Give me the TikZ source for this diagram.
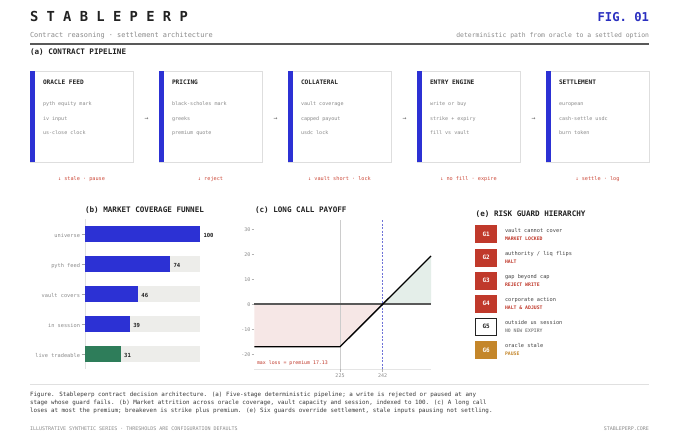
\documentclass[tikz,border=0pt]{standalone}
\usepackage{fontspec}
\setmainfont{DejaVu Sans Mono}
\newcommand\fsz[1]{\fontsize{#1pt}{#1pt}\selectfont}
\definecolor{ink}{HTML}{222222}
\definecolor{figblue}{HTML}{2A2FC0}
\definecolor{barblue}{HTML}{2C31D4}
\definecolor{subgray}{HTML}{8A8A8A}
\definecolor{boxline}{HTML}{DEDEDE}
\definecolor{redlab}{HTML}{CC4A3A}
\definecolor{track}{HTML}{EDEDEA}
\definecolor{greenbar}{HTML}{2E7D5A}
\definecolor{pinkfill}{HTML}{F6E7E6}
\definecolor{greenfill}{HTML}{E4EEE9}
\definecolor{badgered}{HTML}{C0392B}
\definecolor{badgeorange}{HTML}{C4862A}
\definecolor{dashblue}{HTML}{6F73D8}
\tikzset{
  every node/.style={inner sep=0pt, outer sep=0pt},
  stagebox/.style={draw=boxline, line width=0.8pt, fill=white, minimum width=103pt, minimum height=91pt},
  stagetitle/.style={anchor=mid west, font=\fsz{6.15}\bfseries, text=ink},
  stageitem/.style={anchor=mid west, font=\fsz{5.05}, text=subgray},
  failnote/.style={anchor=mid, font=\fsz{5.2}, text=redlab},
  flowarrow/.style={anchor=mid, font=\fsz{6.5}, text=black!60},
  paneltitle/.style={anchor=mid west, font=\fsz{7.6}\bfseries, text=ink},
  funnellabel/.style={anchor=mid east, font=\fsz{5.3}, text=subgray},
  funnelvalue/.style={anchor=mid west, font=\fsz{5.6}\bfseries, text=ink},
  ticklabel/.style={font=\fsz{5}, text=subgray},
  badge/.style={minimum width=21pt, minimum height=17pt, font=\fsz{6}\bfseries},
  guardmain/.style={anchor=mid west, font=\fsz{5.3}, text=ink!85},
  guardsub/.style={anchor=mid west, font=\fsz{4.8}\bfseries},
}
\begin{document}
\begin{tikzpicture}[x=1pt,y=-1pt]
\useasboundingbox[fill=white] (0,0) rectangle (679,439);
% header
\node[anchor=mid west, font=\fsz{13.8}\bfseries, text=ink] (title) at (30,19) {S T A B L E P E R P};
\node[anchor=mid east, font=\fsz{12.2}\bfseries, text=figblue] (fig) at (649,19) {FIG. 01};
\node[anchor=mid west, font=\fsz{6.9}, text=subgray] (sub) at (30,35) {Contract reasoning · settlement architecture};
\node[anchor=mid east, font=\fsz{6.4}, text=subgray] (det) at (649,35) {deterministic path from oracle to a settled option};
\draw[line width=2pt, draw=black!65] (30,44) -- (649,44);
\node[paneltitle] (pa) at (30,52) {(a) CONTRACT PIPELINE};
% pipeline
\foreach \i/\t/\a/\b/\c/\r in {
  0/ORACLE FEED/pyth equity mark/iv input/us-close clock/stale · pause,
  1/PRICING/black-scholes mark/greeks/premium quote/reject,
  2/COLLATERAL/vault coverage/capped payout/usdc lock/vault short · lock,
  3/ENTRY ENGINE/write or buy/strike + expiry/fill vs vault/no fill · expire,
  4/SETTLEMENT/european/cash-settle usdc/burn token/settle · log}{
  \pgfmathsetmacro\xo{30+129*\i}
  \node[stagebox] (s\i) at (\xo+51.5,116.5) {};
  \fill[barblue] (s\i.north west) rectangle ++(4.5,91);
  \node[stagetitle] (s\i t) at (\xo+13,82) {\t};
  \node[stageitem] (s\i a) at (\xo+13,103) {\a};
  \node[stageitem] (s\i b) at (\xo+13,117.5) {\b};
  \node[stageitem] (s\i c) at (\xo+13,132) {\c};
  \node[failnote] (s\i r) at (\xo+51.5,178) {↓ \r};
}
\foreach \i in {0,1,2,3}{
  \node[flowarrow] (arr\i) at (146.5+129*\i,117.5) {→};
}
% (b) funnel
\node[paneltitle] (pb) at (85,210) {(b) MARKET COVERAGE FUNNEL};
\draw[draw=black!12, line width=0.6pt] (85,219) -- (85,369);
\foreach \k/\l/\v/\col in {0/universe/100/barblue, 1/pyth feed/74/barblue, 2/vault covers/46/barblue, 3/in session/39/barblue, 4/live tradeable/31/greenbar}{
  \pgfmathsetmacro\yc{234.3+30*\k}
  \fill[track] (85,\yc-8) rectangle (200,\yc+8);
  \fill[\col] (85,\yc-8) rectangle (85+1.15*\v,\yc+8);
  \draw[draw=black!35, line width=0.5pt] (81.5,\yc) -- (85,\yc);
  \node[funnellabel] (fl\k) at (80,\yc) {\l};
  \node[funnelvalue] (fv\k) at (85+1.15*\v+3.5,\yc) {\v};
}
% (c) payoff
\node[paneltitle] (pc) at (255,210) {(c) LONG CALL PAYOFF};
\fill[pinkfill] (254.3,304) -- (382.7,304) -- (340,346.8) -- (254.3,346.8) -- cycle;
\fill[greenfill] (382.7,304) -- (431,256) -- (431,304) -- cycle;
\draw[draw=black!20, line width=0.6pt] (340,220) -- (340,369);
\draw[draw=dashblue, line width=0.6pt, dash pattern=on 2pt off 1.5pt] (382.7,220) -- (382.7,369);
\draw[draw=black!10, line width=0.6pt] (254.3,369) -- (431,369);
\draw[draw=black!65, line width=1.2pt] (254.3,304) -- (431,304);
\draw[draw=black, line width=1.3pt, line join=round] (254.3,346.8) -- (340,346.8) -- (431,256);
\foreach \v in {30,20,10,0,-10,-20}{
  \pgfmathsetmacro\yy{304-2.5*\v}
  \draw[draw=black!30, line width=0.5pt] (251.5,\yy) -- (254,\yy);
  \node[ticklabel, anchor=mid east] (yt\v) at (250.5,\yy) {\v};
}
\draw[draw=black!30, line width=0.5pt] (340,369) -- (340,371.5);
\draw[draw=black!30, line width=0.5pt] (382.7,369) -- (382.7,371.5);
\node[ticklabel, anchor=mid] (xk) at (340,375) {225};
\node[ticklabel, anchor=mid] (xb) at (382.7,375) {242};
\node[anchor=mid west, font=\fsz{4.9}, text=badgered] (ml) at (257,362) {max loss = premium 17.13};
% (e) risk guards
\node[paneltitle] (pe) at (475.7,213.3) {(e) RISK GUARD HIERARCHY};
\foreach \k/\g/\m/\s/\fc/\tc/\dc/\sc in {
  0/G1/{vault cannot cover}/{MARKET LOCKED}/badgered/white/badgered/badgered,
  1/G2/{authority / liq flips}/{HALT}/badgered/white/badgered/badgered,
  2/G3/{gap beyond cap}/{REJECT WRITE}/badgered/white/badgered/badgered,
  3/G4/{corporate action}/{HALT \& ADJUST}/badgered/white/badgered/badgered,
  4/G5/{outside us session}/{NO NEW EXPIRY}/white/ink/ink/subgray,
  5/G6/{oracle stale}/{PAUSE}/badgeorange/white/badgeorange/badgeorange}{
  \pgfmathsetmacro\yc{234.4+23.1*\k}
  \node[badge, fill=\fc, draw=\dc, line width=0.9pt, text=\tc] (g\k) at (486.2,\yc) {\g};
  \node[guardmain] (gm\k) at (505,\yc-5) {\m};
  \node[guardsub, text=\sc] (gs\k) at (505,\yc+3) {\s};
}
% caption
\draw[draw=black!12, line width=0.6pt] (30,384) -- (649,384);
\node[anchor=mid west, font=\fsz{5.85}, text=ink!90] (cap1) at (30,394) {Figure. Stableperp contract decision architecture. (a) Five-stage deterministic pipeline; a write is rejected or paused at any};
\node[anchor=mid west, font=\fsz{5.85}, text=ink!90] (cap2) at (30,402) {stage whose guard fails. (b) Market attrition across oracle coverage, vault capacity and session, indexed to 100. (c) A long call};
\node[anchor=mid west, font=\fsz{5.85}, text=ink!90] (cap3) at (30,410) {loses at most the premium; breakeven is strike plus premium. (e) Six guards override settlement, stale inputs pausing not settling.};
\node[anchor=mid west, font=\fsz{5}, text=subgray] (foot1) at (30,428) {ILLUSTRATIVE SYNTHETIC SERIES · THRESHOLDS ARE CONFIGURATION DEFAULTS};
\node[anchor=mid east, font=\fsz{5}, text=subgray] (foot2) at (649,428) {STABLEPERP.CORE};
\end{tikzpicture}
\end{document}
